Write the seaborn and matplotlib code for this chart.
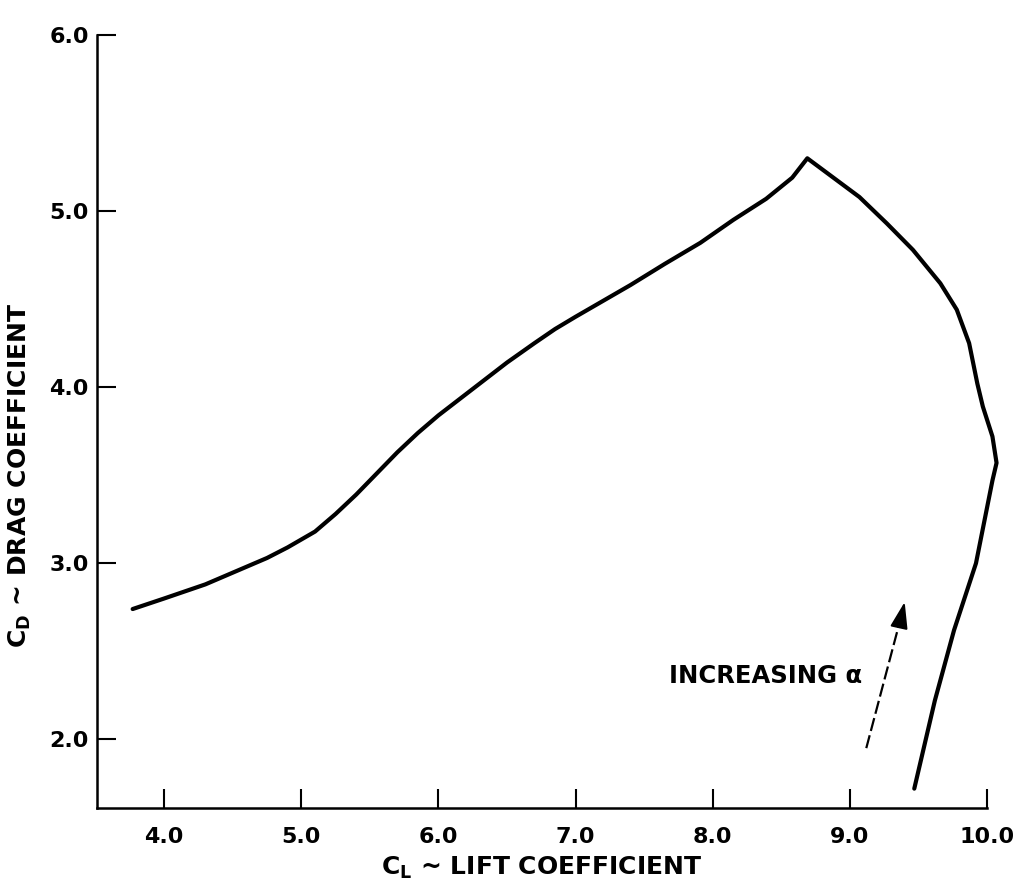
import matplotlib
matplotlib.use("Agg")
import matplotlib.pyplot as plt
import pandas as pd
import seaborn as sns

# ---- data ----
cl_values = [3.77, 4.00, 4.15, 4.30, 4.60, 4.75, 4.90, 5.10, 5.25, 5.40, 5.55,
             5.70, 5.85, 6.00, 6.15, 6.30, 6.50, 6.70, 6.85, 7.00, 7.20, 7.40,
             7.65, 7.91, 8.15, 8.39, 8.58, 8.69, 8.88, 9.07, 9.27, 9.46,
             9.66, 9.78, 9.87, 9.93, 9.97, 10.04, 10.07, 10.04, 9.92, 9.76,
             9.62, 9.47]
cd_values = [2.74, 2.80, 2.84, 2.88, 2.98, 3.03, 3.09, 3.18, 3.28, 3.39, 3.51,
             3.63, 3.74, 3.84, 3.93, 4.02, 4.14, 4.25, 4.33, 4.40, 4.49, 4.58,
             4.70, 4.82, 4.95, 5.07, 5.19, 5.30, 5.19, 5.08, 4.93, 4.78,
             4.59, 4.44, 4.25, 4.02, 3.89, 3.72, 3.57, 3.47, 3.00, 2.62,
             2.22, 1.72]
x_ticks = [4.0, 5.0, 6.0, 7.0, 8.0, 9.0, 10.0]
x_tick_labels = ["4.0", "5.0", "6.0", "7.0", "8.0", "9.0", "10.0"]
y_ticks = [2.0, 3.0, 4.0, 5.0, 6.0]
y_tick_labels = ["2.0", "3.0", "4.0", "5.0", "6.0"]
x_label = r"$\mathbf{C_L}$ ~ LIFT COEFFICIENT"
y_label = r"$\mathbf{C_D}$ ~ DRAG COEFFICIENT"
note_text = "INCREASING α"

sns.set_theme(style="ticks")
plt.rcParams["font.family"] = ["DejaVu Sans"]
plt.rcParams["font.weight"] = "bold"
plt.rcParams["mathtext.fontset"] = "dejavusans"

fig = plt.figure(figsize=(10.2, 8.85), dpi=100)
ax = fig.add_axes([0.0951, 0.087, 0.8725, 0.8734])

df = pd.DataFrame({"CL": cl_values, "CD": cd_values})
sns.lineplot(data=df, x="CL", y="CD", sort=False, estimator=None,
             color="black", linewidth=3.0, ax=ax)
for ln in ax.lines:
    ln.set_clip_on(False)
    ln.set_solid_joinstyle("round")
    ln.set_solid_capstyle("round")

ax.set_xlim(3.51, 10.0)
ax.set_ylim(1.61, 6.0)
ax.set_xticks(x_ticks)
ax.set_xticklabels(x_tick_labels)
ax.set_yticks(y_ticks)
ax.set_yticklabels(y_tick_labels)

for s in ["top", "right"]:
    ax.spines[s].set_visible(False)
for s in ["left", "bottom"]:
    ax.spines[s].set_linewidth(1.8)
    ax.spines[s].set_color("black")

ax.tick_params(axis="both", direction="in", length=13.5, width=1.5,
               color="black", labelcolor="black")
ax.tick_params(axis="x", labelsize=16, pad=14)
ax.tick_params(axis="y", labelsize=16, pad=6)
for lab in ax.get_xticklabels() + ax.get_yticklabels():
    lab.set_fontweight("bold")

ax.set_xlabel(x_label, fontsize=18, fontweight="bold", color="black")
ax.set_ylabel(y_label, fontsize=18, fontweight="bold", color="black")
ax.xaxis.set_label_coords(0.5, -0.061)
ax.yaxis.set_label_coords(-0.072, 0.431)

ax.text(9.09, 2.36, note_text, ha="right", va="center", fontsize=17.5,
        fontweight="bold", color="black")

# dashed arrow shaft and arrow head
ax.plot([9.12, 9.365], [1.95, 2.67], color="black", linewidth=1.6,
        linestyle=(0, (6, 2)))
ax.annotate("", xy=(9.40, 2.78), xytext=(9.36, 2.64),
            arrowprops=dict(arrowstyle="-|>,head_length=0.9,head_width=0.3",
                            color="black", lw=1.5, mutation_scale=18,
                            shrinkA=0, shrinkB=0))

ax.set_facecolor("white")
fig.patch.set_facecolor("white")
fig.savefig("out.png", dpi=100, facecolor="white")
